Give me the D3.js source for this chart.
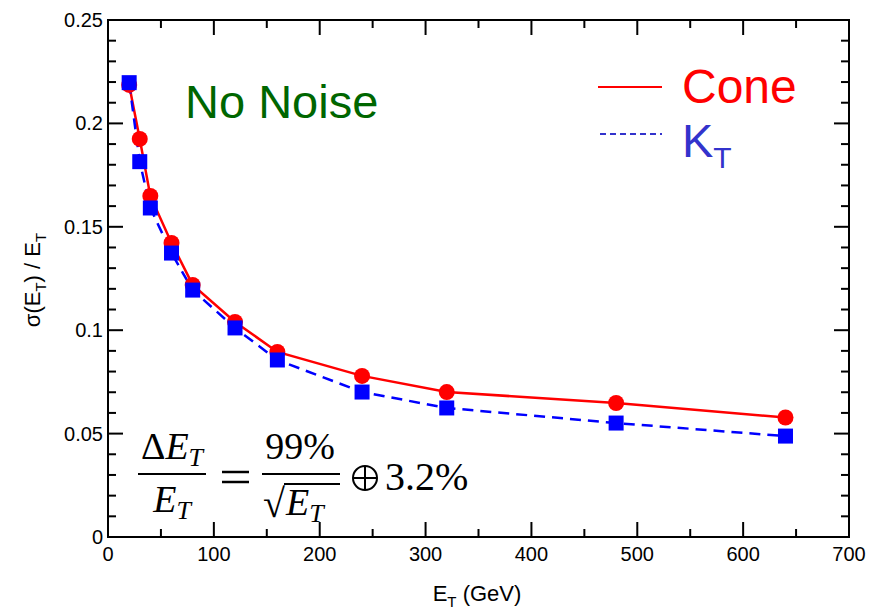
<!DOCTYPE html>
<html><head><meta charset="utf-8">
<script src="https://cdn.jsdelivr.net/npm/d3@7"></script>
<style>body{margin:0;background:#fff}svg{display:block}</style>
</head><body>
<svg id="c" width="883" height="613"></svg>
<script>
const energies = [20, 30, 40, 60, 80, 120, 160, 240, 320, 480, 640];
const coneValues = [0.2186, 0.1925, 0.1649, 0.1422, 0.1219, 0.104, 0.0895, 0.0779, 0.0701, 0.0648, 0.0578];
const ktValues = [0.2197, 0.1815, 0.1591, 0.1373, 0.1194, 0.1011, 0.0856, 0.0701, 0.0624, 0.0551, 0.0488];
const xTicks = [0, 100, 200, 300, 400, 500, 600, 700];
const yTicks = [0, 0.05, 0.1, 0.15, 0.2, 0.25];
const yTickLabels = ["0", "0.05", "0.1", "0.15", "0.2", "0.25"];

const svg = d3.select("#c");
const L = 108, R = 849, T = 20, B = 537;
const x = d3.scaleLinear().domain([0, 700]).range([L, R]);
const y = d3.scaleLinear().domain([0, 0.25]).range([B, T]);
const font = "Liberation Sans, Arial, sans-serif";

// ticks (inward)
const g = svg.append("g").attr("stroke", "#000").attr("stroke-width", 2);
const xMinor = d3.range(0, 701, 50);
const yMinor = d3.range(0, 0.2501, 0.01);
xMinor.forEach(v => {
  const len = (v % 100 === 0) ? 15 : 8;
  g.append("line").attr("x1", x(v)).attr("x2", x(v)).attr("y1", B).attr("y2", B - len);
  g.append("line").attr("x1", x(v)).attr("x2", x(v)).attr("y1", T).attr("y2", T + len);
});
yMinor.forEach((v, i) => {
  const len = (i % 5 === 0) ? 15 : 8;
  g.append("line").attr("y1", y(v)).attr("y2", y(v)).attr("x1", L).attr("x2", L + len);
  g.append("line").attr("y1", y(v)).attr("y2", y(v)).attr("x1", R).attr("x2", R - len);
});
svg.append("rect").attr("x", L).attr("y", T).attr("width", R - L).attr("height", B - T)
  .attr("fill", "none").attr("stroke", "#000").attr("stroke-width", 2);

// tick labels
svg.append("g").selectAll("text").data(xTicks).join("text")
  .attr("x", d => x(d)).attr("y", B + 24).attr("text-anchor", "middle")
  .attr("font-family", font).attr("font-size", 20).text(d => d);
svg.append("g").selectAll("text").data(yTicks).join("text")
  .attr("x", L - 5).attr("y", d => y(d) + 7).attr("text-anchor", "end")
  .attr("font-family", font).attr("font-size", 20).text((d, i) => yTickLabels[i]);

// axis titles
const xt = svg.append("text").attr("x", 477).attr("y", 601).attr("text-anchor", "middle")
  .attr("font-family", font).attr("font-size", 22);
xt.append("tspan").text("E");
xt.append("tspan").attr("font-size", 15).attr("dy", 6).text("T");
xt.append("tspan").attr("dy", -6).text(" (GeV)");

const yt = svg.append("text").attr("transform", "translate(40,280) rotate(-90)")
  .attr("text-anchor", "middle").attr("font-family", font).attr("font-size", 22);
yt.append("tspan").text("σ(E");
yt.append("tspan").attr("font-size", 15).attr("dy", 6).text("T");
yt.append("tspan").attr("dy", -6).text(") / E");
yt.append("tspan").attr("font-size", 15).attr("dy", 6).text("T");

// lines
const line = d3.line().x(d => x(d[0])).y(d => y(d[1]));
const cone = energies.map((e, i) => [e, coneValues[i]]);
const kt = energies.map((e, i) => [e, ktValues[i]]);
svg.append("path").datum(cone).attr("d", line).attr("fill", "none")
  .attr("stroke", "#ff0000").attr("stroke-width", 2.5);
svg.append("path").datum(kt).attr("d", line).attr("fill", "none")
  .attr("stroke", "#0000ff").attr("stroke-width", 2.5).attr("stroke-dasharray", "11,7");

svg.append("g").selectAll("circle").data(cone).join("circle")
  .attr("cx", d => x(d[0])).attr("cy", d => y(d[1])).attr("r", 8).attr("fill", "#ff0000");
svg.append("g").selectAll("rect").data(kt).join("rect")
  .attr("x", d => x(d[0]) - 7.5).attr("y", d => y(d[1]) - 7.5).attr("width", 15).attr("height", 15)
  .attr("fill", "#0000ff");

// annotations
svg.append("text").attr("x", 185).attr("y", 118).attr("font-family", font).attr("font-size", 47)
  .attr("fill", "#006600").text("No Noise");

svg.append("line").attr("x1", 598).attr("x2", 662).attr("y1", 87).attr("y2", 87)
  .attr("stroke", "#ff0000").attr("stroke-width", 2);
svg.append("text").attr("x", 682).attr("y", 103).attr("font-family", font).attr("font-size", 48)
  .attr("fill", "#ff0000").text("Cone");
svg.append("line").attr("x1", 600).attr("x2", 662).attr("y1", 134).attr("y2", 134)
  .attr("stroke", "#3333cc").attr("stroke-width", 2).attr("stroke-dasharray", "6,4");
const kl = svg.append("text").attr("x", 682).attr("y", 157).attr("font-family", font).attr("font-size", 47)
  .attr("fill", "#3333cc");
kl.append("tspan").text("K");
kl.append("tspan").attr("font-size", 30).attr("dy", 11).text("T");

// formula
const serif = "Liberation Serif, Times New Roman, serif";
const fg = svg.append("g").attr("font-family", serif).attr("fill", "#000");
function sub(parent, base, subt) {
  parent.append("tspan").attr("font-style", "italic").text(base);
  parent.append("tspan").attr("font-style", "italic").attr("font-size", 26).attr("dy", 7).text(subt);
}
const n1 = fg.append("text").attr("x", 172).attr("y", 459).attr("text-anchor", "middle").attr("font-size", 38);
n1.append("tspan").text("Δ");
n1.append("tspan").attr("font-style", "italic").text("E");
n1.append("tspan").attr("font-style", "italic").attr("font-size", 26).attr("dy", 7).text("T");
fg.append("line").attr("x1", 138).attr("x2", 206).attr("y1", 474).attr("y2", 474).attr("stroke", "#000").attr("stroke-width", 2);
const d1 = fg.append("text").attr("x", 172).attr("y", 512).attr("text-anchor", "middle").attr("font-size", 38);
sub(d1, "E", "T");
// equals
fg.append("line").attr("x1", 222).attr("x2", 249).attr("y1", 472).attr("y2", 472).attr("stroke", "#000").attr("stroke-width", 2.5);
fg.append("line").attr("x1", 222).attr("x2", 249).attr("y1", 482).attr("y2", 482).attr("stroke", "#000").attr("stroke-width", 2.5);
fg.append("text").attr("x", 300).attr("y", 459).attr("text-anchor", "middle").attr("font-size", 38).text("99%");
fg.append("line").attr("x1", 262).attr("x2", 340).attr("y1", 474).attr("y2", 474).attr("stroke", "#000").attr("stroke-width", 2);
fg.append("text").attr("x", 263).attr("y", 517).attr("font-size", 40).text("√");
fg.append("line").attr("x1", 284).attr("x2", 340).attr("y1", 484).attr("y2", 484).attr("stroke", "#000").attr("stroke-width", 2);
const d2 = fg.append("text").attr("x", 286).attr("y", 515).attr("font-size", 38);
sub(d2, "E", "T");
// oplus
fg.append("circle").attr("cx", 365).attr("cy", 478).attr("r", 12).attr("fill", "none").attr("stroke", "#000").attr("stroke-width", 2);
fg.append("line").attr("x1", 353).attr("x2", 377).attr("y1", 478).attr("y2", 478).attr("stroke", "#000").attr("stroke-width", 2);
fg.append("line").attr("x1", 365).attr("x2", 365).attr("y1", 466).attr("y2", 490).attr("stroke", "#000").attr("stroke-width", 2);
fg.append("text").attr("x", 385).attr("y", 490).attr("font-size", 40).text("3.2%");
</script>
</body></html>
